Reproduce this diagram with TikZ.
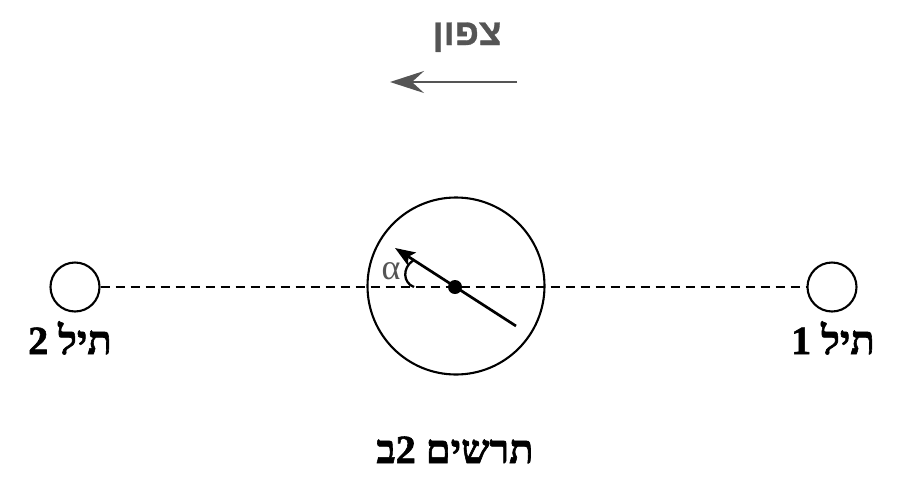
\documentclass[tikz,border=0pt]{standalone}
\usepackage{fontspec}
\setmainfont{Liberation Serif}
\newfontfamily\hebserif[Script=Hebrew, BoldFeatures={FakeBold=1.5}]{Liberation Serif}
\newfontfamily\hebsans[Script=Hebrew, BoldFeatures={FakeBold=0.8}]{Liberation Sans}
\TeXXeTstate=1
\usetikzlibrary{arrows.meta}
\definecolor{northgray}{HTML}{555555}
\tikzset{
  wire/.style={circle, draw, line width=2.1pt, minimum size=49pt, inner sep=0pt},
  bigcirc/.style={circle, draw, line width=2.1pt, minimum size=177pt, inner sep=0pt},
  hline/.style={line width=2.1pt, dash pattern=on 9pt off 6pt},
  heblabel/.style={anchor=base, font=\hebserif\bfseries\fontsize{40}{42}\selectfont, inner sep=0pt},
}
\begin{document}
\begin{tikzpicture}[x=1pt,y=-1pt]
\useasboundingbox (0,0) rectangle (903,499);
% wires and compass circle
\node[wire] (w2) at (75,287) {};
\node[wire] (w1) at (832,287) {};
\node[bigcirc] (c) at (456,286) {};
\draw[hline] (w2.east) -- (w1.west);
% needle
\coordinate (tail) at (516,326);
\coordinate (tip) at (395,248);
\draw[line width=2.7pt, -{Stealth[length=20pt,width=15pt,inset=4pt]}] (tail) -- (tip);
\fill (455,287) circle[radius=7];
% angle mark
\draw[line width=2.3pt] (414,287) .. controls (403,283) and (402,268) .. (413,260.5);
\node[text=northgray, font=\fontsize{36}{38}\selectfont, inner sep=0pt] (alpha) at (391,271) {α};
% labels
\node[heblabel] (l2) at (70,354) {\beginR תיל 2\endR};
\node[heblabel] (l1) at (833,354) {\beginR תיל 1\endR};
\node[heblabel] (cap) at (455,463) {\beginR תרשים 2ב\endR};
% north
\node[anchor=base, inner sep=0pt, text=northgray, font=\hebsans\bfseries\fontsize{37}{39}\selectfont] (north) at (467,45) {\beginR צפון\endR};
\coordinate (nstart) at (517,82);
\coordinate (nend) at (390,82);
\draw[northgray, line width=2pt, -{Stealth[length=34pt,width=22pt,inset=12pt]}] (nstart) -- (nend);
\end{tikzpicture}
\end{document}
